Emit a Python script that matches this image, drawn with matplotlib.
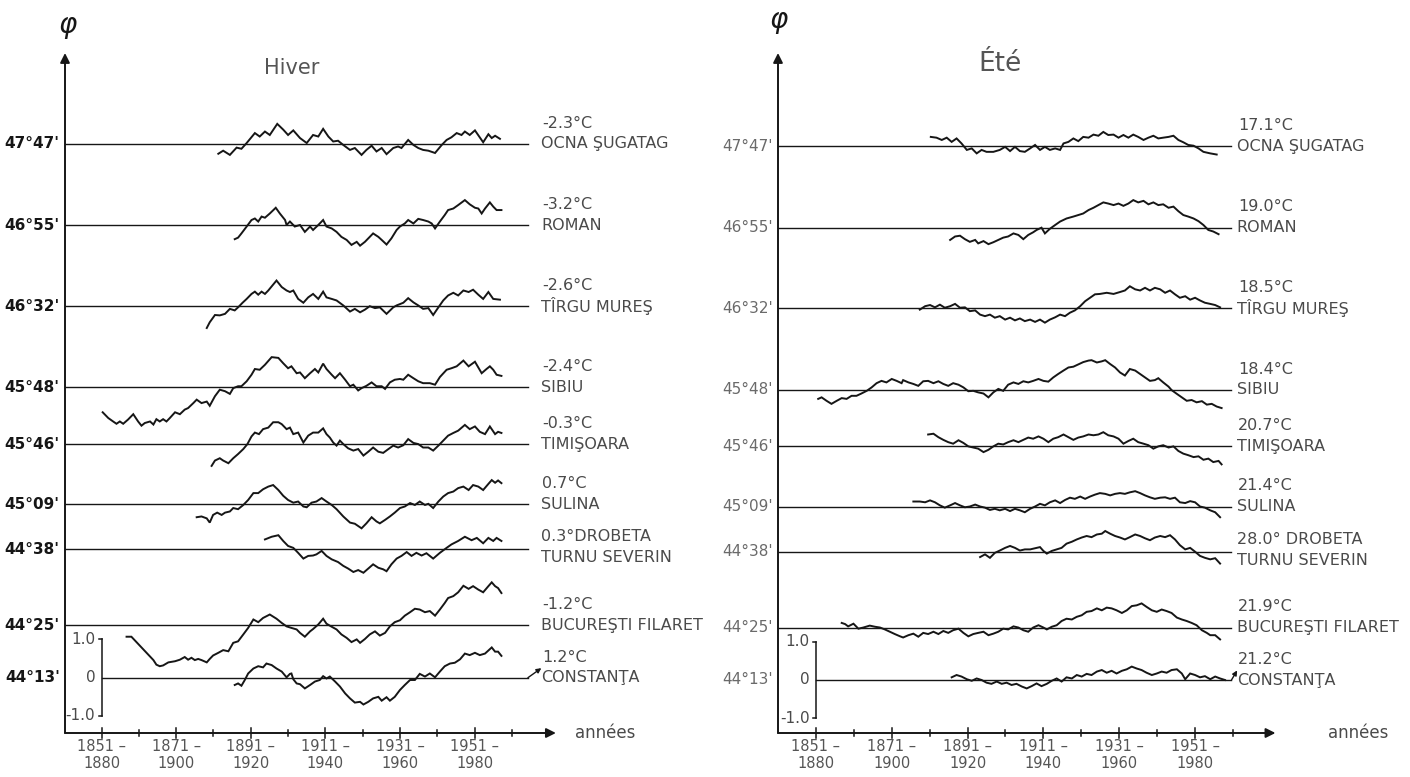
import matplotlib
matplotlib.use("Agg")
import matplotlib.pyplot as plt

plt.rcParams["font.family"] = ["Liberation Sans Narrow", "DejaVu Sans"]

# ── Stations (top to bottom) ─────────────────────────────
stations = ["OCNA ŞUGATAG", "ROMAN", "TÎRGU MUREŞ", "SIBIU", "TIMIŞOARA",
            "SULINA", "TURNU SEVERIN", "BUCUREŞTI FILARET", "CONSTANŢA"]
latitudes = ["47°47'", "46°55'", "46°32'", "45°48'", "45°46'",
             "45°09'", "44°38'", "44°25'", "44°13'"]
temps_hiver = ["-2.3°C", "-3.2°C", "-2.6°C", "-2.4°C", "-0.3°C",
               "0.7°C", "0.3°DROBETA", "-1.2°C", "1.2°C"]
temps_ete = ["17.1°C", "19.0°C", "18.5°C", "18.4°C", "20.7°C",
             "21.4°C", "28.0° DROBETA", "21.9°C", "21.2°C"]
period_labels = ["1851 –\n1880", "1871 –\n1900", "1891 –\n1920",
                 "1911 –\n1940", "1931 –\n1960", "1951 –\n1980"]
period_starts = [1851, 1871, 1891, 1911, 1931, 1951]

# ── Hiver: 30-yr moving anomalies (°C) ───────────────────
h_ocna_yr = [1882.3, 1883.6, 1885.4, 1887.2, 1888.5, 1889.9, 1892.1, 1893.4, 1894.8, 1896.1, 1898.1, 1899.7, 1901.0, 1902.4, 1904.2, 1906.0, 1907.7, 1909.1, 1910.4, 1911.8, 1913.1, 1914.4, 1915.8, 1917.6, 1918.9, 1920.7, 1922.0, 1923.4, 1924.7, 1926.1, 1927.4, 1929.2, 1930.5, 1931.4, 1933.2, 1934.6, 1935.9, 1937.2, 1938.6, 1940.4, 1942.2, 1943.5, 1944.8, 1946.2, 1947.5, 1948.4, 1949.7, 1951.1, 1953.3, 1954.7, 1955.6, 1956.5, 1957.8]
h_ocna = [-0.26, -0.18, -0.29, -0.10, -0.13, 0.02, 0.28, 0.19, 0.32, 0.23, 0.52, 0.37, 0.23, 0.35, 0.15, 0.02, 0.23, 0.19, 0.39, 0.19, 0.06, 0.08, -0.03, -0.16, -0.11, -0.29, -0.16, -0.05, -0.20, -0.11, -0.27, -0.11, -0.07, -0.11, 0.10, -0.03, -0.11, -0.16, -0.18, -0.24, -0.03, 0.10, 0.17, 0.28, 0.23, 0.32, 0.23, 0.35, 0.04, 0.25, 0.15, 0.21, 0.13]

h_roman_yr = [1886.7, 1887.6, 1888.5, 1889.9, 1891.2, 1892.1, 1893.0, 1893.9, 1894.8, 1896.1, 1897.7, 1898.8, 1900.2, 1900.6, 1901.5, 1902.8, 1904.2, 1905.5, 1906.9, 1907.7, 1909.1, 1910.4, 1911.3, 1912.7, 1914.0, 1915.3, 1916.7, 1918.0, 1919.4, 1920.3, 1921.6, 1922.5, 1923.8, 1925.2, 1926.1, 1927.4, 1928.7, 1930.1, 1931.0, 1932.3, 1933.2, 1934.6, 1935.9, 1937.2, 1938.6, 1939.5, 1940.4, 1941.7, 1943.0, 1943.9, 1945.3, 1946.6, 1948.4, 1949.7, 1951.1, 1952.0, 1952.9, 1953.8, 1955.1, 1956.0, 1956.9, 1958.2]
h_roman = [-0.36, -0.32, -0.21, -0.03, 0.14, 0.18, 0.10, 0.23, 0.20, 0.31, 0.46, 0.31, 0.14, 0.01, 0.10, -0.03, 0.01, -0.17, -0.03, -0.12, 0.01, 0.14, -0.03, -0.08, -0.17, -0.30, -0.38, -0.51, -0.43, -0.53, -0.43, -0.34, -0.21, -0.30, -0.38, -0.50, -0.34, -0.12, -0.03, 0.05, 0.14, 0.05, 0.17, 0.14, 0.10, 0.05, -0.08, 0.10, 0.27, 0.40, 0.44, 0.53, 0.66, 0.55, 0.46, 0.44, 0.31, 0.44, 0.60, 0.49, 0.40, 0.40]

h_tirgu_yr = [1879.2, 1880.0, 1881.4, 1882.7, 1884.1, 1885.4, 1886.7, 1887.6, 1888.8, 1889.9, 1891.2, 1892.1, 1893.0, 1893.9, 1894.8, 1895.7, 1897.9, 1899.3, 1900.6, 1901.5, 1902.4, 1903.7, 1905.1, 1906.4, 1907.7, 1909.1, 1910.4, 1911.3, 1912.7, 1914.0, 1915.8, 1917.6, 1918.9, 1920.3, 1921.6, 1922.9, 1924.3, 1925.6, 1927.4, 1929.2, 1930.1, 1931.9, 1933.2, 1934.6, 1935.9, 1937.2, 1938.6, 1939.9, 1941.3, 1942.6, 1943.9, 1945.3, 1946.6, 1948.0, 1949.4, 1950.6, 1952.0, 1953.3, 1954.7, 1956.0, 1957.8]
h_tirgu = [-0.57, -0.42, -0.23, -0.24, -0.20, -0.07, -0.11, -0.03, 0.09, 0.19, 0.32, 0.38, 0.30, 0.38, 0.32, 0.41, 0.67, 0.50, 0.41, 0.37, 0.41, 0.19, 0.09, 0.23, 0.32, 0.19, 0.38, 0.23, 0.19, 0.15, 0.02, -0.14, -0.07, -0.16, -0.09, 0.00, -0.05, -0.03, -0.20, -0.03, 0.02, 0.09, 0.21, 0.10, 0.02, -0.07, -0.05, -0.23, -0.03, 0.15, 0.28, 0.35, 0.28, 0.41, 0.37, 0.43, 0.30, 0.19, 0.37, 0.19, 0.17]

h_sibiu_yr = [1851.3, 1852.8, 1854.1, 1855.0, 1855.9, 1856.8, 1858.1, 1859.5, 1860.8, 1861.7, 1862.6, 1864.0, 1864.9, 1865.7, 1866.6, 1867.5, 1868.4, 1869.3, 1870.7, 1872.0, 1873.3, 1874.2, 1875.6, 1876.5, 1877.8, 1879.2, 1880.0, 1881.4, 1882.7, 1884.1, 1885.4, 1886.3, 1887.6, 1888.5, 1889.9, 1891.2, 1892.1, 1893.4, 1894.8, 1896.6, 1898.4, 1899.7, 1901.0, 1901.9, 1903.3, 1904.2, 1905.5, 1906.9, 1908.2, 1909.1, 1910.4, 1911.3, 1912.7, 1913.6, 1914.9, 1916.3, 1917.6, 1918.5, 1919.8, 1920.7, 1922.0, 1923.4, 1924.7, 1926.1, 1927.0, 1928.3, 1929.6, 1931.0, 1931.9, 1933.2, 1934.6, 1935.9, 1937.2, 1939.0, 1940.4, 1941.7, 1943.5, 1944.8, 1946.2, 1948.0, 1949.4, 1951.1, 1952.9, 1954.2, 1955.1, 1956.0, 1956.9, 1958.2]
h_sibiu = [-0.65, -0.80, -0.89, -0.95, -0.89, -0.95, -0.84, -0.70, -0.89, -1.00, -0.93, -0.89, -0.97, -0.83, -0.89, -0.83, -0.89, -0.80, -0.65, -0.70, -0.58, -0.54, -0.41, -0.32, -0.41, -0.37, -0.48, -0.23, -0.06, -0.10, -0.17, -0.02, 0.03, 0.03, 0.16, 0.33, 0.48, 0.46, 0.59, 0.79, 0.77, 0.63, 0.50, 0.55, 0.37, 0.39, 0.24, 0.37, 0.48, 0.39, 0.62, 0.48, 0.33, 0.24, 0.37, 0.20, 0.03, 0.07, -0.08, -0.02, 0.04, 0.13, 0.03, 0.03, -0.04, 0.13, 0.20, 0.22, 0.20, 0.33, 0.24, 0.16, 0.11, 0.11, 0.07, 0.27, 0.46, 0.50, 0.55, 0.70, 0.55, 0.67, 0.37, 0.48, 0.55, 0.46, 0.33, 0.30]

h_timis_yr = [1880.5, 1881.4, 1882.7, 1883.6, 1885.0, 1886.3, 1887.6, 1889.0, 1890.1, 1891.2, 1892.1, 1893.2, 1894.3, 1895.7, 1897.0, 1898.4, 1899.3, 1900.6, 1901.5, 1902.4, 1903.7, 1905.1, 1906.4, 1907.7, 1909.1, 1910.4, 1911.3, 1912.2, 1913.1, 1914.0, 1914.9, 1915.8, 1917.1, 1918.5, 1919.8, 1921.2, 1922.5, 1923.8, 1925.2, 1926.5, 1927.9, 1929.2, 1930.5, 1931.9, 1933.2, 1934.6, 1935.9, 1937.2, 1938.6, 1939.9, 1941.3, 1942.6, 1943.9, 1945.3, 1946.6, 1948.4, 1949.7, 1951.1, 1952.4, 1953.8, 1955.1, 1956.5, 1957.3, 1958.2]
h_timis = [-0.57, -0.43, -0.37, -0.43, -0.50, -0.37, -0.26, -0.13, 0.00, 0.20, 0.30, 0.26, 0.39, 0.43, 0.57, 0.57, 0.52, 0.39, 0.43, 0.26, 0.30, 0.04, 0.22, 0.30, 0.30, 0.41, 0.26, 0.17, 0.04, -0.04, 0.09, 0.00, -0.11, -0.17, -0.13, -0.30, -0.20, -0.09, -0.20, -0.23, -0.13, -0.04, -0.09, -0.03, 0.13, 0.03, 0.00, -0.09, -0.09, -0.17, -0.04, 0.09, 0.22, 0.29, 0.35, 0.50, 0.39, 0.46, 0.32, 0.26, 0.46, 0.26, 0.32, 0.29]

h_sulina_yr = [1876.5, 1877.8, 1879.2, 1880.0, 1880.9, 1882.0, 1883.2, 1884.1, 1885.4, 1886.3, 1887.6, 1889.0, 1890.3, 1891.7, 1893.0, 1894.3, 1895.7, 1897.0, 1898.4, 1899.7, 1901.0, 1902.4, 1903.7, 1905.1, 1906.0, 1907.3, 1908.6, 1910.0, 1911.3, 1912.7, 1914.0, 1915.8, 1917.6, 1918.9, 1920.7, 1922.0, 1923.4, 1924.7, 1925.6, 1927.0, 1928.3, 1929.6, 1931.0, 1932.3, 1933.7, 1935.0, 1936.3, 1937.7, 1938.6, 1939.9, 1941.3, 1942.6, 1943.9, 1945.3, 1946.6, 1948.0, 1949.4, 1950.6, 1952.0, 1953.3, 1954.7, 1955.6, 1956.5, 1957.3, 1958.2]
h_sulina = [-0.34, -0.32, -0.37, -0.48, -0.28, -0.22, -0.28, -0.22, -0.19, -0.10, -0.13, -0.02, 0.11, 0.29, 0.29, 0.39, 0.46, 0.50, 0.37, 0.22, 0.11, 0.04, 0.07, -0.06, -0.08, 0.04, 0.07, 0.16, 0.07, -0.02, -0.13, -0.32, -0.48, -0.51, -0.63, -0.50, -0.34, -0.45, -0.50, -0.41, -0.32, -0.22, -0.10, -0.06, 0.03, -0.02, 0.07, -0.02, 0.01, -0.10, 0.07, 0.20, 0.29, 0.33, 0.42, 0.46, 0.37, 0.50, 0.46, 0.37, 0.53, 0.63, 0.56, 0.62, 0.55]

h_drobeta_yr = [1894.8, 1896.6, 1898.4, 1899.7, 1901.0, 1902.4, 1903.7, 1905.1, 1906.4, 1907.7, 1908.6, 1910.0, 1911.3, 1912.7, 1914.4, 1915.8, 1917.1, 1918.5, 1919.8, 1921.2, 1922.5, 1923.8, 1925.2, 1926.5, 1927.4, 1928.7, 1930.1, 1931.4, 1932.8, 1934.1, 1935.4, 1936.8, 1938.1, 1939.9, 1941.7, 1943.5, 1944.8, 1946.6, 1948.4, 1950.2, 1951.6, 1953.3, 1954.7, 1956.0, 1956.9, 1958.2]
h_drobeta = [0.26, 0.33, 0.37, 0.22, 0.09, 0.04, -0.09, -0.24, -0.17, -0.16, -0.13, -0.04, -0.17, -0.26, -0.33, -0.43, -0.50, -0.59, -0.54, -0.61, -0.50, -0.39, -0.48, -0.52, -0.57, -0.39, -0.24, -0.17, -0.07, -0.17, -0.09, -0.16, -0.10, -0.24, -0.09, 0.04, 0.13, 0.22, 0.33, 0.24, 0.30, 0.16, 0.30, 0.22, 0.30, 0.22]

h_bucur_yr = [1857.7, 1859.0, 1864.9, 1865.7, 1866.6, 1867.5, 1868.9, 1870.7, 1872.0, 1873.3, 1874.2, 1875.1, 1876.0, 1876.9, 1877.8, 1879.2, 1880.0, 1880.9, 1882.3, 1883.6, 1885.0, 1886.3, 1887.6, 1889.0, 1890.3, 1891.7, 1893.0, 1894.3, 1896.1, 1897.9, 1899.3, 1900.6, 1901.9, 1903.3, 1904.2, 1905.5, 1906.9, 1907.7, 1909.1, 1910.4, 1911.3, 1912.7, 1914.0, 1915.3, 1916.7, 1918.0, 1919.4, 1920.3, 1921.6, 1922.9, 1924.3, 1925.6, 1927.0, 1928.3, 1929.6, 1931.0, 1932.3, 1933.7, 1935.0, 1936.3, 1937.7, 1939.0, 1940.4, 1941.7, 1943.0, 1943.9, 1945.3, 1946.6, 1948.0, 1949.4, 1950.6, 1952.0, 1953.3, 1954.7, 1955.6, 1956.5, 1957.3, 1958.2]
h_bucur = [-0.30, -0.30, -0.91, -1.03, -1.07, -1.05, -0.97, -0.94, -0.90, -0.83, -0.90, -0.85, -0.91, -0.88, -0.91, -0.97, -0.88, -0.79, -0.72, -0.65, -0.68, -0.46, -0.42, -0.24, -0.07, 0.15, 0.08, 0.19, 0.28, 0.17, 0.06, -0.03, -0.07, -0.11, -0.20, -0.30, -0.16, -0.10, 0.02, 0.17, 0.04, -0.04, -0.11, -0.24, -0.33, -0.44, -0.37, -0.46, -0.36, -0.24, -0.16, -0.27, -0.20, -0.03, 0.08, 0.13, 0.25, 0.34, 0.43, 0.41, 0.34, 0.37, 0.25, 0.41, 0.58, 0.71, 0.76, 0.86, 1.03, 0.95, 1.02, 0.93, 0.86, 1.02, 1.12, 1.02, 0.97, 0.84]

h_const_yr = [1886.7, 1887.6, 1888.5, 1889.4, 1890.3, 1891.7, 1893.0, 1894.3, 1895.2, 1896.6, 1897.9, 1899.3, 1900.6, 1901.5, 1901.9, 1902.4, 1903.3, 1904.2, 1905.5, 1906.9, 1908.2, 1909.5, 1910.4, 1911.3, 1912.2, 1913.6, 1914.9, 1916.3, 1917.6, 1918.9, 1920.3, 1921.2, 1922.5, 1923.8, 1925.2, 1926.1, 1927.4, 1928.3, 1929.6, 1931.0, 1932.3, 1933.7, 1935.0, 1936.3, 1937.7, 1939.0, 1940.4, 1941.7, 1943.0, 1944.4, 1945.7, 1947.1, 1948.4, 1949.7, 1951.1, 1952.4, 1953.8, 1955.6, 1956.5, 1957.3, 1958.2]
h_const = [-0.19, -0.15, -0.21, -0.06, 0.11, 0.24, 0.30, 0.27, 0.37, 0.33, 0.24, 0.16, 0.01, 0.10, 0.11, -0.04, -0.15, -0.17, -0.28, -0.19, -0.10, -0.06, 0.04, -0.02, 0.03, -0.10, -0.23, -0.41, -0.54, -0.65, -0.63, -0.70, -0.63, -0.54, -0.50, -0.60, -0.51, -0.60, -0.50, -0.32, -0.19, -0.06, -0.06, 0.10, 0.03, 0.11, 0.01, 0.16, 0.30, 0.37, 0.39, 0.48, 0.63, 0.59, 0.65, 0.59, 0.63, 0.79, 0.68, 0.68, 0.57]

# ── Été: 30-yr moving anomalies (°C) ─────────────────────
e_ocna_yr = [1881.3, 1882.8, 1884.2, 1885.5, 1886.8, 1888.1, 1889.4, 1890.8, 1892.1, 1893.4, 1894.7, 1896.0, 1897.8, 1899.5, 1900.9, 1902.2, 1903.5, 1904.8, 1906.1, 1907.5, 1908.8, 1910.1, 1911.4, 1912.7, 1914.1, 1915.4, 1916.3, 1917.6, 1918.9, 1920.2, 1921.5, 1922.9, 1924.2, 1925.5, 1926.8, 1928.1, 1929.5, 1930.8, 1932.1, 1933.4, 1934.7, 1936.0, 1937.4, 1938.7, 1940.0, 1941.3, 1942.6, 1944.0, 1945.3, 1946.6, 1947.9, 1949.2, 1950.6, 1951.9, 1953.2, 1955.0, 1956.7]
e_ocna = [0.24, 0.22, 0.16, 0.22, 0.11, 0.20, 0.07, -0.10, -0.06, -0.19, -0.10, -0.15, -0.15, -0.10, -0.02, -0.13, -0.02, -0.13, -0.15, -0.06, 0.03, -0.10, -0.02, -0.10, -0.06, -0.10, 0.07, 0.11, 0.20, 0.13, 0.24, 0.22, 0.30, 0.27, 0.37, 0.29, 0.30, 0.22, 0.29, 0.22, 0.30, 0.24, 0.16, 0.22, 0.27, 0.20, 0.22, 0.24, 0.27, 0.16, 0.10, 0.03, 0.01, -0.06, -0.15, -0.19, -0.22]

e_roman_yr = [1886.4, 1887.7, 1889.0, 1890.3, 1891.6, 1893.0, 1893.8, 1895.2, 1896.5, 1897.8, 1899.1, 1900.4, 1901.7, 1903.1, 1904.4, 1905.7, 1907.0, 1908.3, 1909.2, 1910.5, 1911.4, 1912.7, 1914.1, 1915.4, 1917.1, 1918.9, 1920.2, 1921.5, 1922.9, 1924.2, 1925.5, 1926.8, 1928.1, 1929.5, 1930.8, 1932.1, 1933.4, 1934.7, 1936.0, 1937.4, 1938.7, 1940.0, 1941.3, 1942.6, 1944.0, 1945.3, 1946.6, 1947.9, 1949.2, 1950.6, 1951.9, 1953.2, 1954.5, 1955.8, 1957.2]
e_roman = [-0.32, -0.23, -0.21, -0.30, -0.37, -0.32, -0.41, -0.35, -0.43, -0.38, -0.32, -0.26, -0.23, -0.15, -0.19, -0.30, -0.19, -0.12, -0.06, 0.00, -0.15, -0.03, 0.07, 0.16, 0.24, 0.29, 0.33, 0.37, 0.46, 0.52, 0.59, 0.66, 0.63, 0.59, 0.63, 0.57, 0.63, 0.72, 0.66, 0.70, 0.61, 0.66, 0.59, 0.61, 0.52, 0.55, 0.43, 0.33, 0.29, 0.24, 0.17, 0.07, -0.06, -0.10, -0.17]

e_tirgu_yr = [1878.4, 1879.8, 1881.1, 1882.4, 1883.7, 1885.0, 1886.4, 1887.7, 1889.0, 1890.3, 1891.6, 1893.0, 1894.3, 1895.6, 1896.9, 1898.2, 1899.5, 1900.9, 1902.2, 1903.5, 1904.8, 1906.1, 1907.5, 1908.8, 1910.1, 1911.4, 1912.7, 1914.1, 1915.4, 1916.7, 1918.0, 1919.3, 1920.7, 1922.0, 1923.3, 1924.6, 1925.9, 1927.7, 1929.5, 1931.2, 1932.5, 1933.8, 1935.2, 1936.5, 1937.8, 1939.1, 1940.4, 1941.8, 1943.1, 1944.4, 1945.7, 1947.0, 1948.4, 1949.7, 1951.0, 1952.3, 1953.6, 1955.0, 1956.3, 1957.6]
e_tirgu = [-0.03, 0.06, 0.09, 0.03, 0.10, 0.02, 0.06, 0.12, 0.02, 0.03, -0.07, -0.05, -0.16, -0.20, -0.16, -0.24, -0.20, -0.29, -0.24, -0.31, -0.26, -0.33, -0.29, -0.35, -0.29, -0.37, -0.29, -0.23, -0.16, -0.20, -0.11, -0.05, 0.06, 0.19, 0.28, 0.37, 0.38, 0.41, 0.38, 0.43, 0.47, 0.58, 0.50, 0.47, 0.54, 0.47, 0.54, 0.50, 0.41, 0.47, 0.37, 0.28, 0.32, 0.23, 0.28, 0.21, 0.15, 0.12, 0.09, 0.03]

e_sibiu_yr = [1851.6, 1852.5, 1853.8, 1855.1, 1856.5, 1857.8, 1859.1, 1860.4, 1861.7, 1863.0, 1864.4, 1865.7, 1867.0, 1868.3, 1869.6, 1871.0, 1872.3, 1873.6, 1874.0, 1875.4, 1876.7, 1878.0, 1879.3, 1880.6, 1882.0, 1883.3, 1884.6, 1885.9, 1887.2, 1888.6, 1889.9, 1891.2, 1892.5, 1893.8, 1895.2, 1896.5, 1897.8, 1899.1, 1900.4, 1901.7, 1903.1, 1904.4, 1905.7, 1907.0, 1908.3, 1909.7, 1911.0, 1912.3, 1913.6, 1914.9, 1916.3, 1917.6, 1918.9, 1920.2, 1921.5, 1922.9, 1923.7, 1925.1, 1926.4, 1927.3, 1928.6, 1929.9, 1931.2, 1932.5, 1933.8, 1935.2, 1936.5, 1937.8, 1939.1, 1940.4, 1941.3, 1942.6, 1944.0, 1944.8, 1946.2, 1947.5, 1948.8, 1950.1, 1951.4, 1952.8, 1954.1, 1955.4, 1956.7, 1958.0]
e_sibiu = [-0.24, -0.20, -0.29, -0.37, -0.29, -0.22, -0.24, -0.16, -0.16, -0.10, -0.03, 0.06, 0.17, 0.23, 0.19, 0.28, 0.23, 0.17, 0.25, 0.19, 0.15, 0.10, 0.22, 0.23, 0.17, 0.22, 0.15, 0.10, 0.17, 0.13, 0.06, -0.04, -0.03, -0.07, -0.10, -0.20, -0.07, 0.02, -0.03, 0.13, 0.19, 0.15, 0.22, 0.19, 0.23, 0.28, 0.23, 0.21, 0.32, 0.41, 0.50, 0.58, 0.60, 0.66, 0.72, 0.76, 0.77, 0.71, 0.74, 0.77, 0.67, 0.58, 0.45, 0.37, 0.54, 0.50, 0.41, 0.32, 0.23, 0.25, 0.30, 0.19, 0.08, -0.01, -0.11, -0.20, -0.29, -0.27, -0.33, -0.30, -0.39, -0.37, -0.44, -0.48]

e_timis_yr = [1880.6, 1882.0, 1883.3, 1884.6, 1885.9, 1887.2, 1888.6, 1889.9, 1891.2, 1892.5, 1893.8, 1895.2, 1896.5, 1897.8, 1899.1, 1900.4, 1901.7, 1903.1, 1904.4, 1905.7, 1907.0, 1908.3, 1909.7, 1911.0, 1912.3, 1913.6, 1914.9, 1916.3, 1917.6, 1918.9, 1920.2, 1921.5, 1922.9, 1924.2, 1925.5, 1926.8, 1928.1, 1929.5, 1930.8, 1932.1, 1933.4, 1934.7, 1936.0, 1937.4, 1938.7, 1940.0, 1941.3, 1942.6, 1944.0, 1945.3, 1946.6, 1947.9, 1949.2, 1950.6, 1951.9, 1953.2, 1954.5, 1955.8, 1957.2, 1958.0]
e_timis = [0.31, 0.33, 0.24, 0.17, 0.11, 0.07, 0.16, 0.09, 0.00, -0.03, -0.06, -0.15, -0.09, 0.00, 0.07, 0.05, 0.11, 0.16, 0.11, 0.17, 0.23, 0.20, 0.26, 0.20, 0.11, 0.20, 0.24, 0.31, 0.24, 0.17, 0.23, 0.26, 0.31, 0.29, 0.31, 0.37, 0.29, 0.26, 0.20, 0.07, 0.14, 0.20, 0.11, 0.07, 0.03, -0.06, 0.00, 0.03, -0.03, 0.00, -0.12, -0.19, -0.23, -0.28, -0.26, -0.35, -0.32, -0.41, -0.38, -0.47]

e_sulina_yr = [1876.7, 1878.4, 1879.8, 1881.1, 1882.4, 1883.7, 1885.0, 1886.4, 1887.7, 1889.0, 1890.3, 1891.6, 1893.0, 1894.3, 1895.6, 1896.9, 1898.2, 1899.5, 1900.9, 1902.2, 1903.5, 1904.8, 1906.1, 1907.5, 1908.8, 1910.1, 1911.4, 1912.7, 1914.1, 1915.4, 1916.7, 1918.0, 1919.3, 1920.7, 1922.0, 1923.3, 1924.6, 1925.9, 1927.3, 1928.6, 1929.9, 1931.2, 1932.5, 1933.8, 1935.2, 1936.5, 1937.8, 1939.1, 1940.4, 1941.8, 1943.1, 1944.4, 1945.7, 1947.0, 1948.4, 1949.7, 1951.0, 1952.3, 1953.6, 1955.0, 1956.3, 1957.6]
e_sulina = [0.13, 0.13, 0.11, 0.16, 0.11, 0.03, -0.03, 0.03, 0.09, 0.03, -0.02, 0.00, 0.05, 0.00, -0.03, -0.09, -0.06, -0.10, -0.06, -0.12, -0.06, -0.10, -0.15, -0.06, 0.00, 0.07, 0.03, 0.11, 0.16, 0.09, 0.17, 0.23, 0.20, 0.26, 0.20, 0.26, 0.31, 0.35, 0.33, 0.29, 0.33, 0.35, 0.33, 0.37, 0.40, 0.35, 0.29, 0.24, 0.20, 0.23, 0.24, 0.20, 0.23, 0.11, 0.09, 0.14, 0.11, 0.00, -0.03, -0.10, -0.15, -0.28]

e_drobeta_yr = [1894.3, 1895.6, 1896.9, 1898.2, 1899.5, 1900.9, 1902.2, 1903.5, 1904.8, 1906.1, 1907.5, 1908.8, 1910.1, 1911.0, 1911.9, 1913.2, 1914.5, 1915.8, 1917.1, 1918.5, 1919.8, 1921.1, 1922.4, 1923.7, 1925.1, 1926.4, 1927.3, 1928.6, 1929.9, 1931.2, 1932.5, 1933.8, 1935.2, 1936.5, 1937.8, 1939.1, 1940.4, 1941.8, 1943.1, 1944.4, 1945.7, 1947.0, 1948.4, 1949.7, 1951.0, 1952.3, 1953.6, 1955.0, 1956.3, 1957.6]
e_drobeta = [-0.14, -0.07, -0.16, -0.03, 0.03, 0.10, 0.15, 0.10, 0.03, 0.06, 0.06, 0.09, 0.12, 0.02, -0.05, 0.02, 0.06, 0.10, 0.21, 0.26, 0.32, 0.37, 0.41, 0.38, 0.45, 0.47, 0.54, 0.47, 0.41, 0.37, 0.32, 0.38, 0.45, 0.41, 0.35, 0.30, 0.37, 0.41, 0.38, 0.43, 0.32, 0.17, 0.06, 0.10, 0.00, -0.11, -0.16, -0.20, -0.17, -0.31]

e_bucur_yr = [1857.8, 1858.7, 1859.5, 1860.9, 1862.2, 1863.5, 1865.2, 1866.6, 1867.9, 1869.2, 1870.5, 1871.8, 1873.2, 1874.0, 1875.4, 1876.7, 1878.0, 1879.3, 1880.6, 1882.0, 1883.3, 1884.6, 1885.9, 1887.2, 1888.6, 1889.9, 1891.2, 1892.5, 1893.8, 1895.2, 1896.5, 1897.8, 1899.1, 1900.4, 1901.7, 1903.1, 1904.4, 1905.7, 1907.0, 1908.3, 1909.7, 1911.0, 1911.9, 1913.2, 1914.5, 1915.8, 1917.1, 1918.5, 1919.8, 1921.1, 1922.4, 1923.7, 1925.1, 1926.4, 1927.7, 1929.0, 1930.3, 1931.7, 1933.0, 1934.3, 1935.6, 1936.9, 1938.2, 1939.6, 1940.9, 1942.2, 1943.5, 1944.8, 1946.2, 1947.5, 1948.8, 1950.1, 1951.4, 1952.8, 1954.1, 1955.0, 1956.3, 1957.6]
e_bucur = [0.12, 0.09, 0.03, 0.10, -0.03, 0.00, 0.05, 0.02, 0.00, -0.05, -0.11, -0.17, -0.23, -0.26, -0.20, -0.16, -0.24, -0.14, -0.17, -0.11, -0.17, -0.09, -0.14, -0.07, -0.03, -0.14, -0.23, -0.17, -0.14, -0.11, -0.20, -0.16, -0.11, -0.03, -0.05, 0.03, 0.00, -0.07, -0.11, 0.00, 0.06, 0.00, -0.05, 0.02, 0.06, 0.17, 0.23, 0.21, 0.28, 0.32, 0.41, 0.43, 0.50, 0.45, 0.52, 0.50, 0.45, 0.38, 0.45, 0.56, 0.58, 0.63, 0.54, 0.45, 0.41, 0.47, 0.43, 0.38, 0.26, 0.21, 0.17, 0.12, 0.06, -0.07, -0.14, -0.20, -0.20, -0.31]

e_const_yr = [1886.8, 1888.1, 1889.4, 1890.8, 1892.1, 1893.4, 1894.7, 1896.0, 1897.3, 1898.7, 1900.0, 1901.3, 1902.6, 1903.9, 1905.3, 1906.6, 1907.9, 1909.2, 1910.5, 1911.9, 1913.2, 1914.5, 1915.8, 1917.1, 1918.5, 1919.8, 1921.1, 1922.4, 1923.7, 1925.1, 1926.4, 1927.7, 1929.0, 1930.3, 1931.7, 1933.0, 1934.3, 1935.6, 1936.9, 1938.2, 1939.6, 1940.9, 1942.2, 1943.5, 1944.8, 1946.2, 1947.5, 1948.4, 1949.7, 1951.0, 1952.3, 1953.6, 1955.0, 1956.3, 1957.6, 1958.9]
e_const = [0.07, 0.13, 0.09, 0.02, -0.02, 0.04, 0.00, -0.07, -0.10, -0.04, -0.10, -0.07, -0.13, -0.10, -0.17, -0.22, -0.16, -0.09, -0.16, -0.10, -0.02, 0.04, -0.04, 0.07, 0.04, 0.13, 0.09, 0.16, 0.13, 0.22, 0.26, 0.19, 0.24, 0.17, 0.24, 0.28, 0.35, 0.30, 0.26, 0.19, 0.13, 0.17, 0.22, 0.19, 0.26, 0.28, 0.17, 0.02, 0.17, 0.13, 0.07, 0.10, 0.02, 0.09, 0.04, 0.00]

hiver_series = [(h_ocna_yr, h_ocna), (h_roman_yr, h_roman), (h_tirgu_yr, h_tirgu),
                (h_sibiu_yr, h_sibiu), (h_timis_yr, h_timis), (h_sulina_yr, h_sulina),
                (h_drobeta_yr, h_drobeta), (h_bucur_yr, h_bucur), (h_const_yr, h_const)]
ete_series = [(e_ocna_yr, e_ocna), (e_roman_yr, e_roman), (e_tirgu_yr, e_tirgu),
              (e_sibiu_yr, e_sibiu), (e_timis_yr, e_timis), (e_sulina_yr, e_sulina),
              (e_drobeta_yr, e_drobeta), (e_bucur_yr, e_bucur), (e_const_yr, e_const)]

# ── Layout (vertical offset of each station's zero line, in °C units) ──
OFFSETS = [13.94, 11.81, 9.70, 7.58, 6.10, 4.53, 3.35, 1.37, 0.0]
INK = "#161616"
GREY = "#4a4a4a"
W, H = 1410, 777
PX_PER_DEG = 38.3
YTOP = 16.6

fig = plt.figure(figsize=(W / 100, H / 100), dpi=100)
fig.patch.set_facecolor("white")


def draw_panel(left_px, right_px, zero_px, xlim, series, temps, base_end,
               lab_x, lat_color, arrow_x, title, title_xy, title_size,
               phi_xy, annees_xy):
    ybot = (zero_px - 733) / PX_PER_DEG
    top_px = zero_px - YTOP * PX_PER_DEG
    rect = [left_px / W, (H - 733) / H, (right_px - left_px) / W,
            (733 - top_px) / H]
    ax = fig.add_axes(rect)
    ax.set_xlim(*xlim)
    ax.set_ylim(ybot, YTOP)
    ax.axis("off")
    x0 = xlim[0]

    # axes with arrows
    ax.annotate("", xy=(x0, (zero_px - 53) / PX_PER_DEG), xytext=(x0, ybot),
                arrowprops=dict(arrowstyle="-|>", lw=1.4, color=INK,
                                mutation_scale=14, shrinkA=0, shrinkB=0))
    ax.annotate("", xy=(arrow_x, ybot), xytext=(x0, ybot),
                arrowprops=dict(arrowstyle="-|>", lw=1.4, color=INK,
                                mutation_scale=14, shrinkA=0, shrinkB=0))
    for t in range(1851, 1962, 10):
        h = 0.12 if (t - 1851) % 20 == 0 else 0.07
        ax.plot([t, t], [ybot - h, ybot + h], color=INK, lw=1.1, clip_on=False)
    for start, lab in zip(period_starts, period_labels):
        ax.text(start, ybot - 0.58, lab, ha="center", va="center",
                fontsize=10.5, color="#555555", linespacing=1.15)

    # baselines, curves, labels
    for i, (yrs, vals) in enumerate(series):
        off = OFFSETS[i]
        start = 1851 if i == len(series) - 1 else x0
        ax.plot([start, base_end], [off, off], color=INK, lw=1.0)
        ax.plot(yrs, [off + v for v in vals], color=INK, lw=1.4,
                solid_joinstyle="miter")
        ax.text(x0 - 1.4, off, latitudes[i], ha="right", va="center",
                fontsize=11, color=lat_color,
                fontweight="bold" if lat_color == INK else "normal")
        if i == 6:
            ax.text(lab_x, off + 0.33, temps[i], ha="left", va="center",
                    fontsize=11.5, color=GREY)
            ax.text(lab_x, off - 0.22, stations[i], ha="left", va="center",
                    fontsize=11.5, color=GREY)
        else:
            ax.text(lab_x + 0.3, off + 0.54, temps[i], ha="left",
                    va="center", fontsize=11.5, color=GREY)
            ax.text(lab_x, off, stations[i], ha="left", va="center",
                    fontsize=11.5, color=GREY)

    # pointer to CONSTANTA label
    ax.annotate("", xy=(lab_x + 0.1, 0.25), xytext=(base_end, 0.0),
                arrowprops=dict(arrowstyle="-|>", lw=1.0, color=INK,
                                mutation_scale=7, shrinkA=0, shrinkB=0))

    # scale bar (±1 °C)
    ax.plot([1851, 1851], [-1, 1], color=INK, lw=1.1)
    for yv in (-1, 1):
        ax.plot([1850.3, 1851], [yv, yv], color=INK, lw=1.1)
    ax.text(1849.3, 1, "1.0", ha="right", va="center", fontsize=11, color=GREY)
    ax.text(1849.3, 0, "0", ha="right", va="center", fontsize=11, color=GREY)
    ax.text(1849.3, -1, "-1.0", ha="right", va="center", fontsize=11, color=GREY)

    fig.text(title_xy[0] / W, 1 - title_xy[1] / H, title, ha="center",
             va="center", fontsize=title_size, color="#555555")
    fig.text(phi_xy[0] / W, 1 - phi_xy[1] / H, r"$\varphi$",
             ha="center", va="center", fontsize=20, color=INK)
    fig.text(annees_xy[0] / W, 1 - annees_xy[1] / H, "années",
             ha="left", va="center", fontsize=12, color=GREY)
    return ax


# left panel: Hiver
draw_panel(left_px=65, right_px=560, zero_px=677.7, xlim=(1841.2, 1973.9),
           series=hiver_series, temps=temps_hiver, base_end=1965.3,
           lab_x=1968.8, lat_color=INK, arrow_x=1972.8,
           title="Hiver", title_xy=(292, 68), title_size=15,
           phi_xy=(68, 27), annees_xy=(575, 733))

# right panel: Été
draw_panel(left_px=778, right_px=1280, zero_px=680.0, xlim=(1841.0, 1973.4),
           series=ete_series, temps=temps_ete, base_end=1960.6,
           lab_x=1962.0, lat_color="#6a6a6a", arrow_x=1972.2,
           title="Été", title_xy=(1000, 64), title_size=19,
           phi_xy=(779, 22), annees_xy=(1328, 733))

fig.savefig("out.png", dpi=100, facecolor="white")
